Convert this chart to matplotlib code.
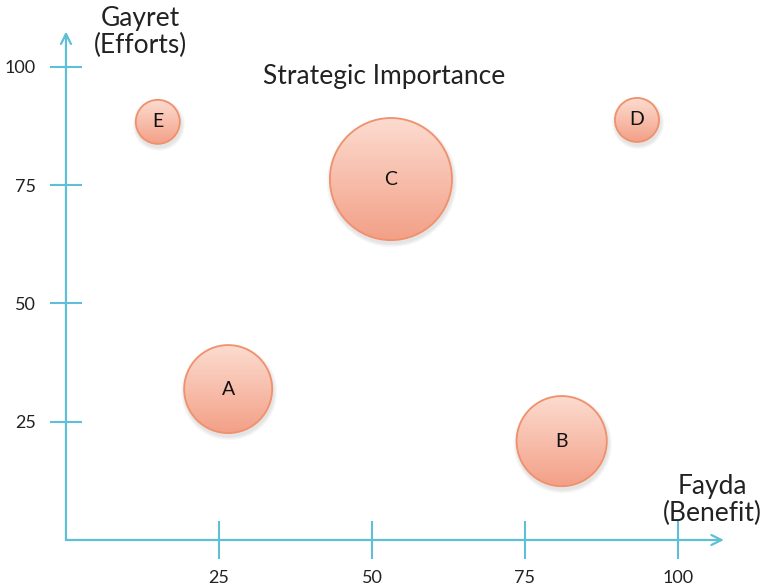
import numpy as np
import matplotlib.pyplot as plt
from matplotlib.patches import Ellipse
from matplotlib.colors import LinearSegmentedColormap

plt.rcParams['font.family'] = ['Lato', 'DejaVu Sans']

# projeler: fayda (x), gayret (y), stratejik onem (balon alani)
labels = ["E", "C", "D", "A", "B"]
benefit = [15.0, 53.1, 93.3, 26.5, 81.0]
effort = [88.4, 76.3, 88.8, 31.9, 20.9]
importance = [10, 77, 10, 40, 42]

xticks = [25, 50, 75, 100]
yticks = [25, 50, 75, 100]

W, H, DPI = 7.62, 5.87, 100
fig = plt.figure(figsize=(W, H), dpi=DPI)
ax = fig.add_axes([0, 0, 1, 1])
xlim = (-10.78, 113.73)
ylim = (-9.94, 114.16)

axcol = "#5fbfd6"
txtcol = "#222222"

# ejes
for s in ["top", "right"]:
    ax.spines[s].set_visible(False)
for s in ["left", "bottom"]:
    ax.spines[s].set_position(("data", 0))
    ax.spines[s].set_visible(False)
ax.annotate("", xy=(107.5, 0), xytext=(0, 0),
            arrowprops=dict(arrowstyle="->", color=axcol, lw=1.6, mutation_scale=18, shrinkA=0, shrinkB=0))
ax.annotate("", xy=(0, 107.5), xytext=(0, 0),
            arrowprops=dict(arrowstyle="->", color=axcol, lw=1.6, mutation_scale=18, shrinkA=0, shrinkB=0))

ax.set_xticks(xticks)
ax.set_yticks(yticks)
ax.set_xticklabels([str(t) for t in xticks])
ax.set_yticklabels([str(t) for t in yticks])
ax.tick_params(axis="x", direction="inout", length=27, width=1.5, color=axcol,
               labelsize=13, labelcolor=txtcol, pad=8)
ax.tick_params(axis="y", direction="inout", length=23, width=1.5, color=axcol,
               labelsize=13, labelcolor=txtcol, pad=10)

# balonlar
cmap = LinearSegmentedColormap.from_list("bub", ["#f3a087", "#fcdcd0"])
grad = np.linspace(0, 1, 256).reshape(-1, 1)
ux = (xlim[1] - xlim[0]) / (W * DPI)
uy = (ylim[1] - ylim[0]) / (H * DPI)
for lab, x, y, imp in zip(labels, benefit, effort, importance):
    r = 22 * np.sqrt(imp / 10)
    for k in range(4):
        sh = Ellipse((x + 1 * ux, y - 3 * uy), 2 * (r + 1 + k) * ux, 2 * (r + 1 + k) * uy,
                     facecolor="#888888", edgecolor="none", alpha=0.06, zorder=2)
        ax.add_patch(sh)
    e = Ellipse((x, y), 2 * r * ux, 2 * r * uy, facecolor="none",
                edgecolor="#f0906c", lw=1.3, zorder=4)
    ax.add_patch(e)
    im = ax.imshow(grad, cmap=cmap, aspect="auto", origin="lower",
                   extent=(x - r * ux, x + r * ux, y - r * uy, y + r * uy), zorder=3)
    im.set_clip_path(e)
    ax.text(x, y, lab, ha="center", va="center", fontsize=14, color="#111111", zorder=5)

ax.set_xlim(*xlim)
ax.set_ylim(*ylim)

ax.text(12.1, 107.4, "Gayret\n(Efforts)", ha="center", va="center", fontsize=19,
        color=txtcol, linespacing=1.08)
ax.text(52.0, 97.9, "Strategic Importance", ha="center", va="center", fontsize=19, color=txtcol)
ax.text(105.6, 8.5, "Fayda\n(Benefit)", ha="center", va="center", fontsize=19,
        color=txtcol, linespacing=1.08)

fig.savefig("out.png", dpi=DPI)
